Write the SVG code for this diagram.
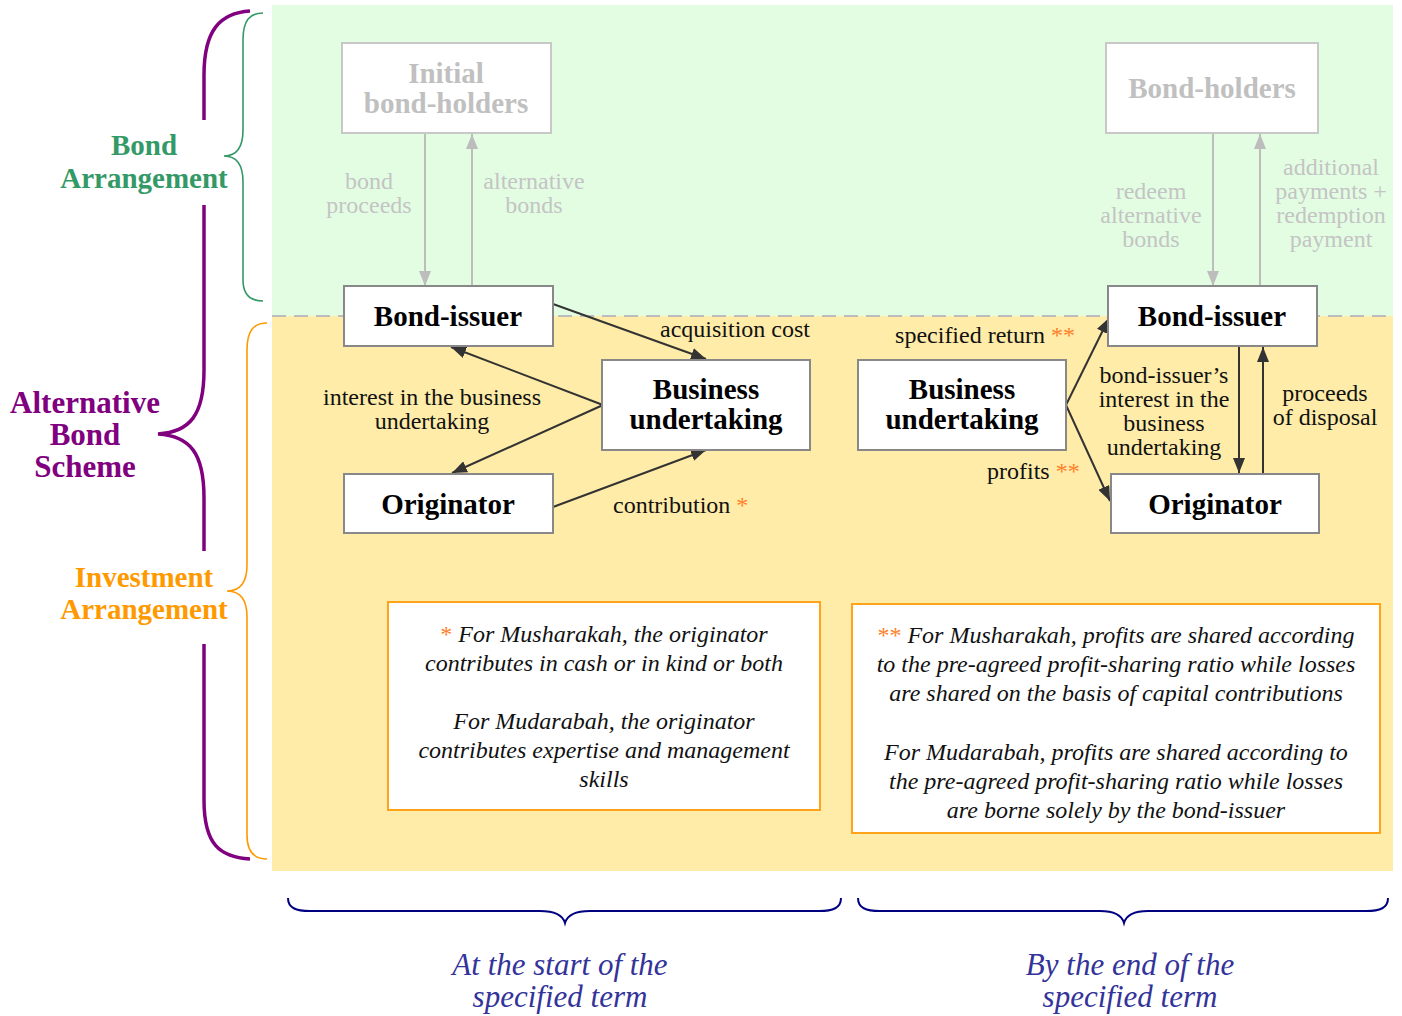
<svg xmlns="http://www.w3.org/2000/svg" width="1402" height="1016" viewBox="0 0 1402 1016">
<defs>
<marker id="ab" viewBox="0 0 15 12" refX="15" refY="6" markerWidth="15" markerHeight="12" markerUnits="userSpaceOnUse" orient="auto"><path d="M0,0 L15,6 L0,12 z" fill="#333"/></marker>
<marker id="ag" viewBox="0 0 15 12" refX="15" refY="6" markerWidth="15" markerHeight="12" markerUnits="userSpaceOnUse" orient="auto"><path d="M0,0 L15,6 L0,12 z" fill="#bdbdbd"/></marker>
<style>
text{font-family:"Liberation Serif","Times New Roman",serif}
.node{fill:#fff;stroke:#888;stroke-width:2}
.gnode{fill:#fff;stroke:#c8c8c8;stroke-width:2}
.nt{font-size:29px;font-weight:bold;fill:#000;text-anchor:middle}
.gt{font-size:29px;font-weight:bold;fill:#c0c0c0;text-anchor:middle}
.lb{font-size:24px;fill:#111}
.glb{font-size:24px;fill:#c4c4c4;text-anchor:middle}
.c{text-anchor:middle}
.note{fill:#fff;stroke:#ffa31a;stroke-width:2}
.nx{font-size:24px;font-style:italic;fill:#111;text-anchor:middle}
.ast{fill:#ff7f2a}
.edge{stroke:#333;stroke-width:2;fill:none;marker-end:url(#ab)}
.gedge{stroke:#bdbdbd;stroke-width:2;fill:none;marker-end:url(#ag)}
.br{fill:none}
.bl{font-size:29px;font-weight:bold;text-anchor:middle}
.term{font-size:31px;font-style:italic;fill:#333399;text-anchor:middle}
</style>
</defs>
<g id="background">
<rect x="272" y="5" width="1121" height="311" fill="#e3fde3"/>
<rect x="272" y="316" width="1121" height="555" fill="#ffeca8"/>
<line x1="272" y1="316" x2="1393" y2="316" stroke="#bdbdbd" stroke-width="2" stroke-dasharray="14,8"/>
</g>
<g id="braces">
<path class="br" stroke="#800080" stroke-width="3.5" d="M250,11 C220,13 204,30 204,75 L204,120"/>
<path class="br" stroke="#800080" stroke-width="3.5" d="M204,205 L204,370 C204,415 190,432 158,434 C190,436 204,453 204,498 L204,551"/>
<path class="br" stroke="#800080" stroke-width="3.5" d="M204,644 L204,800 C204,845 220,857 250,859"/>
<path class="br" stroke="#339966" stroke-width="1.6" d="M263,13 C250,13 243,20 243,40 L243,130 C243,148 236,156 224,156 C236,156 243,164 243,182 L243,280 C243,295 250,301 263,301"/>
<path class="br" stroke="#ff9900" stroke-width="1.6" d="M267,323 C254,323 247,330 247,350 L247,565 C247,583 240,591 227,591 C240,591 247,599 247,617 L247,835 C247,852 254,859 267,859"/>
<path class="br" stroke="#000080" stroke-width="2" d="M288,898 C288,908 296,911 310,911 L540,911 C556,911 563,916 565,923 C567,916 574,911 590,911 L819,911 C833,911 841,908 841,898"/>
<path class="br" stroke="#000080" stroke-width="2" d="M858,898 C858,908 866,911 880,911 L1100,911 C1116,911 1122,916 1124,923 C1126,916 1132,911 1148,911 L1366,911 C1380,911 1388,908 1388,898"/>
<text class="bl" fill="#339966" x="144" y="155">Bond</text>
<text class="bl" fill="#339966" x="144" y="188">Arrangement</text>
<text class="bl" fill="#800080" style="font-size:31px" x="85" y="413">Alternative</text>
<text class="bl" fill="#800080" style="font-size:31px" x="85" y="445">Bond</text>
<text class="bl" fill="#800080" style="font-size:31px" x="85" y="477">Scheme</text>
<text class="bl" fill="#ff9900" x="144" y="587">Investment</text>
<text class="bl" fill="#ff9900" x="144" y="619">Arrangement</text>
<text class="term" x="560" y="975">At the start of the</text>
<text class="term" x="560" y="1007">specified term</text>
<text class="term" x="1130" y="975">By the end of the</text>
<text class="term" x="1130" y="1007">specified term</text>
</g>
<g id="connectors">
<line class="gedge" x1="425" y1="134" x2="425" y2="286"/>
<line class="gedge" x1="472" y1="286" x2="472" y2="134"/>
<line class="gedge" x1="1213" y1="134" x2="1213" y2="286"/>
<line class="gedge" x1="1260" y1="286" x2="1260" y2="134"/>
<line class="edge" x1="553" y1="304" x2="706" y2="359"/>
<line class="edge" x1="603" y1="405" x2="451" y2="347"/>
<line class="edge" x1="603" y1="405" x2="452" y2="473"/>
<line class="edge" x1="553" y1="507" x2="706" y2="450"/>
<line class="edge" x1="1066" y1="405" x2="1109" y2="318"/>
<line class="edge" x1="1066" y1="405" x2="1110" y2="501"/>
<line class="edge" x1="1239" y1="347" x2="1239" y2="473"/>
<line class="edge" x1="1263" y1="473" x2="1263" y2="347"/>
<text class="glb" x="369" y="189">bond</text>
<text class="glb" x="369" y="213">proceeds</text>
<text class="glb" x="534" y="189">alternative</text>
<text class="glb" x="534" y="213">bonds</text>
<text class="glb" x="1151" y="199">redeem</text>
<text class="glb" x="1151" y="223">alternative</text>
<text class="glb" x="1151" y="247">bonds</text>
<text class="glb" x="1331" y="175">additional</text>
<text class="glb" x="1331" y="199">payments +</text>
<text class="glb" x="1331" y="223">redemption</text>
<text class="glb" x="1331" y="247">payment</text>
<text class="lb c" x="735" y="337">acquisition cost</text>
<text class="lb c" x="432" y="405">interest in the business</text>
<text class="lb c" x="432" y="429">undertaking</text>
<text class="lb" x="613" y="513">contribution <tspan class="ast">*</tspan></text>
<text class="lb" x="1075" y="343" text-anchor="end">specified return <tspan class="ast">**</tspan></text>
<text class="lb c" x="1164" y="383">bond-issuer’s</text>
<text class="lb c" x="1164" y="407">interest in the</text>
<text class="lb c" x="1164" y="431">business</text>
<text class="lb c" x="1164" y="455">undertaking</text>
<text class="lb c" x="1325" y="401">proceeds</text>
<text class="lb c" x="1325" y="425">of disposal</text>
<text class="lb" x="987" y="479">profits <tspan class="ast">**</tspan></text>
</g>
<g id="initial-bond-holders">
<rect class="gnode" x="342" y="43" width="209" height="90"/>
<text class="gt" x="446" y="83">Initial</text>
<text class="gt" x="446" y="113">bond-holders</text>
</g>
<g id="bond-holders">
<rect class="gnode" x="1106" y="43" width="212" height="90"/>
<text class="gt" x="1212" y="98">Bond-holders</text>
</g>
<g id="bond-issuer-start">
<rect class="node" x="344" y="286" width="209" height="60"/>
<text class="nt" x="448" y="326">Bond-issuer</text>
</g>
<g id="business-start">
<rect class="node" x="602" y="360" width="208" height="90"/>
<text class="nt" x="706" y="399">Business</text>
<text class="nt" x="706" y="429">undertaking</text>
</g>
<g id="originator-start">
<rect class="node" x="344" y="474" width="209" height="59"/>
<text class="nt" x="448" y="514">Originator</text>
</g>
<g id="bond-issuer-end">
<rect class="node" x="1108" y="286" width="209" height="60"/>
<text class="nt" x="1212" y="326">Bond-issuer</text>
</g>
<g id="business-end">
<rect class="node" x="858" y="360" width="208" height="90"/>
<text class="nt" x="962" y="399">Business</text>
<text class="nt" x="962" y="429">undertaking</text>
</g>
<g id="originator-end">
<rect class="node" x="1111" y="474" width="208" height="59"/>
<text class="nt" x="1215" y="514">Originator</text>
</g>
<g id="note-start">
<rect class="note" x="388" y="602" width="432" height="208"/>
<text class="nx" x="604" y="642"><tspan class="ast" font-style="normal">*</tspan> For Musharakah, the originator</text>
<text class="nx" x="604" y="671">contributes in cash or in kind or both</text>
<text class="nx" x="604" y="729">For Mudarabah, the originator</text>
<text class="nx" x="604" y="758">contributes expertise and management</text>
<text class="nx" x="604" y="787">skills</text>
</g>
<g id="note-end">
<rect class="note" x="852" y="604" width="528" height="229"/>
<text class="nx" x="1116" y="643"><tspan class="ast" font-style="normal">**</tspan> For Musharakah, profits are shared according</text>
<text class="nx" x="1116" y="672">to the pre-agreed profit-sharing ratio while losses</text>
<text class="nx" x="1116" y="701">are shared on the basis of capital contributions</text>
<text class="nx" x="1116" y="760">For Mudarabah, profits are shared according to</text>
<text class="nx" x="1116" y="789">the pre-agreed profit-sharing ratio while losses</text>
<text class="nx" x="1116" y="818">are borne solely by the bond-issuer</text>
</g>
</svg>
